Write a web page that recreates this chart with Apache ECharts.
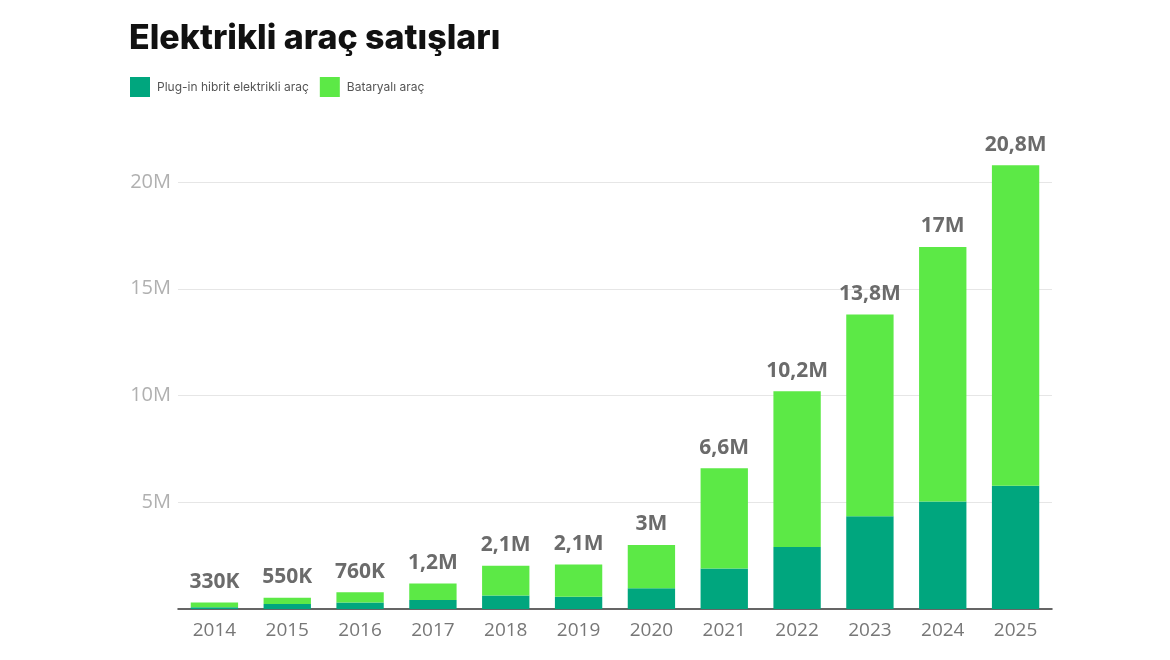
<!DOCTYPE html>
<html>
<head>
<meta charset="utf-8">
<script src="https://cdn.jsdelivr.net/npm/echarts@6/dist/echarts.min.js"></script>
<style>
html,body{margin:0;padding:0;background:#fff;}
#chart{width:1170px;height:660px;}
</style>
</head>
<body>
<div id="chart"></div>
<script>
const years = ['2014','2015','2016','2017','2018','2019','2020','2021','2022','2023','2024','2025'];
const phev = [0.08, 0.23, 0.30, 0.42, 0.63, 0.57, 0.97, 1.90, 2.90, 4.35, 5.03, 5.77];
const bev  = [0.22, 0.30, 0.48, 0.78, 1.39, 1.51, 2.03, 4.69, 7.30, 9.44, 11.93, 15.02];
const totalLabels = ['330K','550K','760K','1,2M','2,1M','2,1M','3M','6,6M','10,2M','13,8M','17M','20,8M'];
const yTicks = [0, 5, 10, 15, 20, 25];
const seriesNames = ['Plug-in hibrit elektrikli araç', 'Bataryalı araç'];
const colors = ['#00a67e', '#5ce946'];

const chart = echarts.init(document.getElementById('chart'), null, {renderer:'canvas'});
chart.setOption({
  animation: false,
  backgroundColor: '#ffffff',
  title: {
    text: 'Elektrikli araç satışları',
    left: 124, top: 17,
    textStyle: {fontFamily: 'Inter', fontWeight: 800, fontSize: 34, color: '#111111'}
  },
  legend: {
    left: 125, top: 72,
    itemWidth: 20, itemHeight: 20, itemGap: 11,
    icon: 'rect',
    textStyle: {fontFamily: 'Inter', fontSize: 12, color: '#555555', padding: [0,0,0,2]},
    data: seriesNames
  },
  grid: {left: 178, right: 118, top: 75.25, bottom: 51, containLabel: false},
  xAxis: {
    type: 'category',
    data: years,
    axisLine: {show: true, lineStyle: {color: '#333333', width: 1.5}},
    axisTick: {show: false},
    axisLabel: {fontFamily: 'Open Sans', fontSize: 19, color: '#777777', margin: 12}
  },
  yAxis: {
    type: 'value',
    min: yTicks[0], max: yTicks[yTicks.length-1], interval: 5,
    axisLine: {show: false},
    axisTick: {show: false},
    splitLine: {show: true, showMaxLine: false, showMinLine: false, lineStyle: {color: '#e6e6e6', width: 1}},
    axisLabel: {
      fontFamily: 'Open Sans', fontSize: 20, color: '#b0b0b0', margin: 7,
      showMaxLabel: false, showMinLabel: false,
      formatter: v => (v === 0 || v === 25) ? '' : v + 'M'
    }
  },
  series: [
    {
      name: seriesNames[0], type: 'bar', stack: 'total', barWidth: '65%',
      itemStyle: {color: colors[0]},
      data: phev
    },
    {
      name: seriesNames[1], type: 'bar', stack: 'total', barWidth: '65%',
      itemStyle: {color: colors[1]},
      label: {
        show: true, position: 'top', distance: 10,
        fontFamily: 'Open Sans', fontWeight: 700, fontSize: 21, color: '#6b6b6b',
        formatter: p => totalLabels[p.dataIndex]
      },
      data: bev
    }
  ]
});
</script>
</body>
</html>
